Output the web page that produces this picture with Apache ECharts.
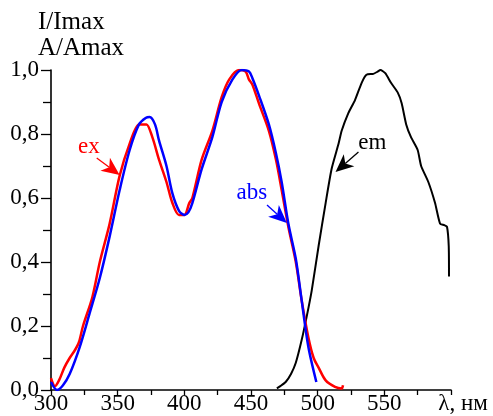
<!DOCTYPE html>
<html><head><meta charset="utf-8">
<script src="https://cdn.jsdelivr.net/npm/echarts@6/dist/echarts.min.js"></script>
<style>html,body{margin:0;padding:0;background:#fff}#c{width:493px;height:416px}</style>
</head><body><div id="c"></div>
<script>
var absX = [300, 304.5, 309, 314, 321.6, 329, 336.6, 344, 351.5, 359, 366, 371, 374, 378, 381, 386.6, 391, 396, 400, 403, 406, 413, 421, 428, 436, 443, 448.5, 451, 456, 463.4, 468.7, 473, 478, 483.6, 488, 493, 499];
var absY = [0.025, 0.0, 0.015, 0.05, 0.135, 0.24, 0.35, 0.48, 0.625, 0.75, 0.83, 0.85, 0.853, 0.83, 0.78, 0.70, 0.615, 0.56, 0.547, 0.555, 0.584, 0.69, 0.79, 0.90, 0.97, 1.0, 0.995, 0.975, 0.92, 0.83, 0.74, 0.65, 0.52, 0.41, 0.28, 0.135, 0.025];
var exX = [300, 303, 306, 310, 314, 318, 321, 324, 331, 336.6, 344, 351.5, 359, 366, 369, 371.6, 376, 381, 386.6, 391, 396, 400, 403.7, 406, 413, 421, 428, 433.6, 441, 446, 448.5, 451, 456, 463.4, 468.7, 473, 478, 483.6, 488, 493, 497, 500.7, 506, 513, 518, 519];
var exY = [0.037, 0.012, 0.03, 0.07, 0.1, 0.125, 0.15, 0.2, 0.29, 0.40, 0.52, 0.67, 0.77, 0.83, 0.83, 0.83, 0.79, 0.72, 0.65, 0.585, 0.547, 0.547, 0.584, 0.60, 0.72, 0.81, 0.915, 0.97, 1.0, 0.995, 0.97, 0.955, 0.895, 0.81, 0.72, 0.625, 0.51, 0.40, 0.28, 0.165, 0.10, 0.07, 0.03, 0.01, 0.005, 0.015];
var emX = [469.4, 472, 476, 480, 483.6, 488, 491.8, 495.5, 500.7, 506, 510.4, 515.7, 518, 523, 528, 533, 536.6, 541.8, 545, 547, 550.7, 555, 560, 563, 566.4, 570, 575, 577.6, 583, 588, 591.8, 595, 597, 598.3, 598.5];
var emY = [0.005, 0.012, 0.025, 0.05, 0.085, 0.156, 0.23, 0.31, 0.45, 0.585, 0.69, 0.77, 0.81, 0.865, 0.906, 0.96, 0.985, 0.988, 0.995, 1.0, 0.99, 0.96, 0.93, 0.896, 0.83, 0.79, 0.75, 0.70, 0.65, 0.585, 0.52, 0.515, 0.51, 0.45, 0.355];
var xTicks = [300, 350, 400, 450, 500, 550, 600];
var yTicks = [0, 0.2, 0.4, 0.6, 0.8, 1.0];

function pairs(xs, ys){ return xs.map(function(x,i){ return [x, ys[i]]; }); }
var FONT = "'Liberation Serif','Times New Roman',serif";

function textMark(color, text, at){
  return {
    silent: true, animation: false,
    symbol: 'circle', symbolSize: 1,
    itemStyle: {color: 'rgba(0,0,0,0)'},
    label: {show: true, position: 'inside', formatter: text, color: color, fontSize: 23, fontFamily: FONT},
    data: [{coord: at}]
  };
}

var arrows = [
  {color: '#ff0000', from: [334.3, 0.725], to: [351.5, 0.672]},
  {color: '#0000ff', from: [462, 0.578], to: [476.9, 0.522]},
  {color: '#000000', from: [530.6, 0.744], to: [513.4, 0.681]}
];

var chart = echarts.init(document.getElementById('c'), null, {renderer: 'canvas'});
var option = {
  animation: false,
  backgroundColor: '#ffffff',
  title: {text: 'I/Imax\nA/Amax', left: 33, top: 4,
    textStyle: {fontSize: 25, fontWeight: 'normal', fontFamily: FONT, color: '#000', lineHeight: 26}},
  grid: {left: 51, right: 42, top: 70, bottom: 26, containLabel: false},
  xAxis: {
    type: 'value', min: 300, max: 600, interval: 50,
    axisLine: {show: true, lineStyle: {color: '#000', width: 1.6}},
    axisTick: {show: true, length: 5, inside: false, lineStyle: {color: '#000', width: 1.3}},
    minorTick: {show: true, splitNumber: 2, length: 5, lineStyle: {color: '#000', width: 1.3}},
    splitLine: {show: false},
    axisLabel: {margin: 2, color: '#000', fontSize: 23, fontFamily: FONT,
      formatter: function(v){ return v === 600 ? '{lam|λ, нм}' : String(v); },
      rich: {lam: {fontSize: 23, fontFamily: FONT, color: '#000', padding: [0, 0, 0, 24]}}}
  },
  yAxis: {
    type: 'value', min: 0, max: 1, interval: 0.2,
    axisLine: {show: true, lineStyle: {color: '#000', width: 1.6}},
    axisTick: {show: true, length: 10, inside: false, lineStyle: {color: '#000', width: 1.3}},
    minorTick: {show: true, splitNumber: 2, length: 8, lineStyle: {color: '#000', width: 1.3}},
    splitLine: {show: false},
    axisLabel: {margin: 12, color: '#000', fontSize: 23, fontFamily: FONT,
      formatter: function(v){ return v.toFixed(1).replace('.', ','); }}
  },
  series: [
    {type: 'line', name: 'em', data: pairs(emX, emY), showSymbol: false, smooth: 0.2,
      lineStyle: {color: '#000000', width: 2}, itemStyle: {color: '#000000'}, z: 2,
      markPoint: textMark('#000000', 'em', [541, 0.772])},
    {type: 'line', name: 'ex', data: pairs(exX, exY), showSymbol: false, smooth: 0.3,
      lineStyle: {color: '#ff0000', width: 2.5}, itemStyle: {color: '#ff0000'}, z: 3,
      markPoint: textMark('#ff0000', 'ex', [328.4, 0.76])},
    {type: 'line', name: 'abs', data: pairs(absX, absY), showSymbol: false, smooth: 0.3,
      lineStyle: {color: '#0000ff', width: 2.5}, itemStyle: {color: '#0000ff'}, z: 4,
      markPoint: textMark('#0000ff', 'abs', [450.7, 0.616])}
  ]
};
chart.setOption(option);

// arrows placed through the chart's own coordinate system
var gfx = [];
arrows.forEach(function(a){
  var p0 = chart.convertToPixel({gridIndex: 0}, a.from);
  var p1 = chart.convertToPixel({gridIndex: 0}, a.to);
  var dx = p1[0] - p0[0], dy = p1[1] - p0[1];
  var L = Math.sqrt(dx*dx + dy*dy); var ux = dx / L, uy = dy / L;
  var nx = -uy, ny = ux;
  var headLen = 18, headW = 8, notch = 13;
  var bx = p1[0] - ux*headLen, by = p1[1] - uy*headLen;
  var mx = p1[0] - ux*notch, my = p1[1] - uy*notch;
  gfx.push({type: 'line', silent: true, z: 10,
    shape: {x1: p0[0], y1: p0[1], x2: mx, y2: my},
    style: {stroke: a.color, lineWidth: 1.3}});
  gfx.push({type: 'polygon', silent: true, z: 10,
    shape: {points: [[p1[0], p1[1]], [bx + nx*headW, by + ny*headW], [mx, my], [bx - nx*headW, by - ny*headW]]},
    style: {fill: a.color}});
});
chart.setOption({graphic: gfx});
</script></body></html>
